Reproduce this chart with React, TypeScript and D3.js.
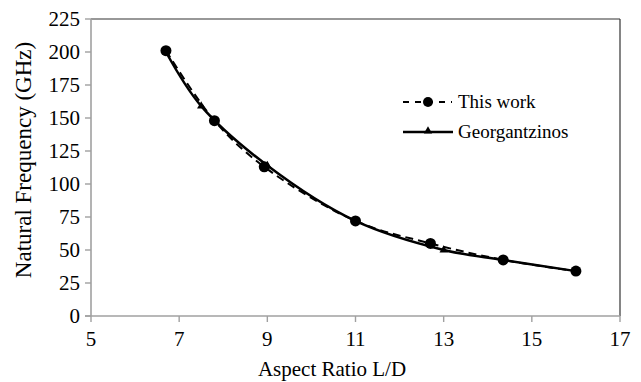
import React from "react";
import * as d3 from "d3";

const thisWorkX = [6.7, 7.8, 8.93, 11.0, 12.7, 14.35, 16.0];
const thisWorkY = [201, 148, 113, 72, 55, 42.5, 34];
const georgX = [6.7, 7.5, 9.0, 11.0, 13.0, 14.35, 16.0];
const georgY = [200, 159, 114, 72, 50, 42.5, 34];
const xTicks = [5, 7, 9, 11, 13, 15, 17];
const yTicks = [0, 25, 50, 75, 100, 125, 150, 175, 200, 225];
const seriesNames = ["This work", "Georgantzinos"];

const W = 641;
const H = 382;
const L = 91, R = 620, T = 19, B = 316;
const FONT = '"Liberation Serif", "DejaVu Serif", serif';

export default function App() {
  const x = d3.scaleLinear().domain([5, 17]).range([L, R]);
  const y = d3.scaleLinear().domain([0, 225]).range([B, T]);
  const line = d3
    .line<[number, number]>()
    .x((d) => x(d[0]))
    .y((d) => y(d[1]))
    .curve(d3.curveCatmullRom.alpha(0.5));
  const tw: [number, number][] = thisWorkX.map((v, i) => [v, thisWorkY[i]]);
  const gz: [number, number][] = georgX.map((v, i) => [v, georgY[i]]);
  const tri = d3.symbol().type(d3.symbolTriangle).size(30)();
  const axisGray = "#a0a0a0";
  const ts = { fontFamily: FONT };

  return (
    <svg
      width={W}
      height={H}
      style={{ position: "absolute", left: 0, top: 0, background: "#fff" }}
    >
      {/* frame */}
      <line x1={L} x2={R} y1={T} y2={T} stroke="#333" strokeWidth={1.2} />
      <line x1={R} x2={R} y1={T} y2={B} stroke="#333" strokeWidth={1.2} />
      <line x1={L} x2={L} y1={T} y2={B} stroke={axisGray} strokeWidth={1.6} />
      <line x1={L - 6} x2={R} y1={B} y2={B} stroke={axisGray} strokeWidth={1.6} />
      {yTicks.map((t) => (
        <g key={"y" + t}>
          <line x1={L - 6} x2={L} y1={y(t)} y2={y(t)} stroke={axisGray} strokeWidth={1.4} />
          <text x={80} y={y(t)} dy="0.34em" textAnchor="end" fontSize={21} fill="#000" style={ts}>
            {t}
          </text>
        </g>
      ))}
      {xTicks.map((t) => (
        <g key={"x" + t}>
          <line x1={x(t)} x2={x(t)} y1={B} y2={B + 6} stroke={axisGray} strokeWidth={1.4} />
          <text x={x(t)} y={346} textAnchor="middle" fontSize={21} fill="#000" style={ts}>
            {t}
          </text>
        </g>
      ))}
      <text x={332} y={376} textAnchor="middle" fontSize={21} fill="#000" style={ts}>
        Aspect Ratio L/D
      </text>
      <text
        transform={`translate(31,160) rotate(-90)`}
        textAnchor="middle"
        fontSize={23}
        fill="#000"
        style={ts}
      >
        Natural Frequency (GHz)
      </text>

      {/* series */}
      <path d={line(gz) || ""} fill="none" stroke="#000" strokeWidth={2.5} />
      {gz.map((d, i) => (
        <path key={"g" + i} d={tri || ""} transform={`translate(${x(d[0])},${y(d[1])})`} fill="#000" />
      ))}
      <path d={line(tw) || ""} fill="none" stroke="#000" strokeWidth={2} strokeDasharray="8,5" />
      {tw.map((d, i) => (
        <circle key={"c" + i} cx={x(d[0])} cy={y(d[1])} r={5.5} fill="#000" />
      ))}

      {/* legend */}
      <g>
        <line x1={403} x2={452} y1={102} y2={102} stroke="#000" strokeWidth={2} strokeDasharray="6,6" />
        <circle cx={428} cy={102} r={5} fill="#000" />
        <text x={458} y={102} dy="0.34em" fontSize={19} fill="#000" style={ts}>
          {seriesNames[0]}
        </text>
        <line x1={403} x2={453} y1={132} y2={132} stroke="#000" strokeWidth={2.5} />
        <path d={tri || ""} transform="translate(428,131)" fill="#000" />
        <text x={458} y={132} dy="0.34em" fontSize={19} fill="#000" style={ts}>
          {seriesNames[1]}
        </text>
      </g>
    </svg>
  );
}
